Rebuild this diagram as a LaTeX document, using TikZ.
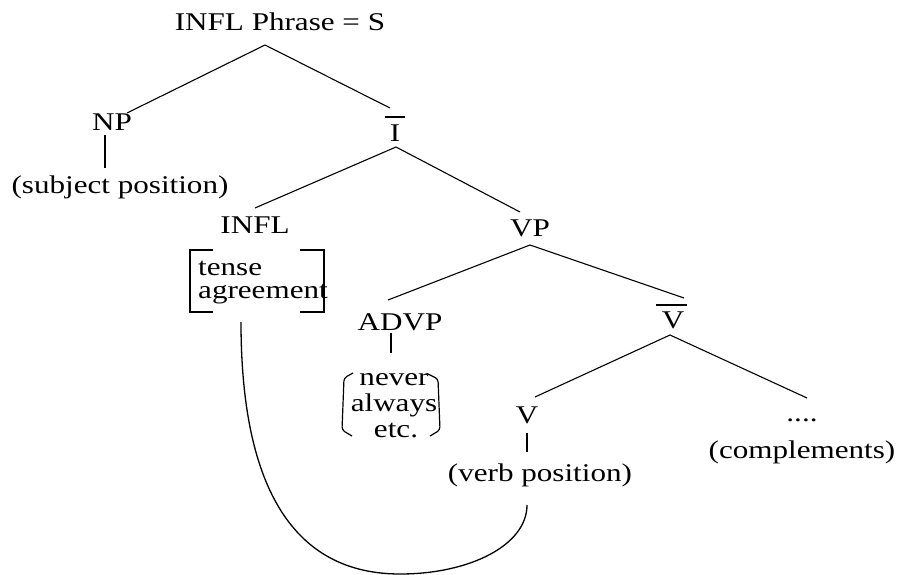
\documentclass[tikz,border=0pt]{standalone}
\usepackage{fontspec}
\setmainfont{Liberation Serif}[FakeStretch=1.22]
\begin{document}
\begin{tikzpicture}[x=1pt,y=-1pt,
  lbl/.style={inner sep=0pt,font=\fontsize{25.5}{28}\selectfont},
  branch/.style={line width=1.1pt},
  stem/.style={line width=2.6pt},
  thinstem/.style={line width=1.5pt},
  brk/.style={line width=1.6pt},
  ovbar/.style={line width=2.4pt}]
\useasboundingbox (0,0) rectangle (899,575);
% nodes
\node[lbl] (S) at (280,22) {INFL Phrase = S};
\node[lbl] (NP) at (112,122) {NP};
\node[lbl] (subj) at (120,187) {(subject position)};
\node[lbl] (Ibar) at (395,133) {I};
\node[lbl] (INFL) at (255,225) {INFL};
\node[lbl] (VP) at (530,228) {VP};
\node[lbl,anchor=base west] (tense) at (198,275) {tense};
\node[lbl,anchor=base west] (agr) at (198,298) {agreement};
\node[lbl] (ADVP) at (400,322) {ADVP};
\node[lbl,anchor=base] (never) at (394,385) {never};
\node[lbl,anchor=base] (always) at (394,411) {always};
\node[lbl,anchor=base] (etc) at (396,437) {etc.};
\node[lbl] (Vbar) at (673,320) {V};
\node[lbl] (V) at (527,415) {V};
\node[lbl] (verbpos) at (540,475) {(verb position)};
\node[lbl] (dots) at (802,420) {....};
\node[lbl] (compl) at (802,452) {(complements)};
% coordinates for branch ends
\coordinate (aS) at (265,45);
\coordinate (eNP) at (127,113);
\coordinate (eI) at (390,108);
\coordinate (aI) at (396,147);
\coordinate (eINFL) at (255,208);
\coordinate (eVP) at (520,212);
\coordinate (aVP) at (530,245);
\coordinate (eADVP) at (388,300);
\coordinate (eVbar) at (684,298);
\coordinate (aVbar) at (670,335);
\coordinate (eV) at (535,397);
\coordinate (eDots) at (807,398);
% bars over I and V
\coordinate (ib1) at (385,117); \coordinate (ib2) at (405,117);
\draw[ovbar] (ib1) -- (ib2);
\coordinate (vb1) at (656,305); \coordinate (vb2) at (687,305);
\draw[ovbar] (vb1) -- (vb2);
% branches
\draw[branch] (eNP) -- (aS) -- (eI);
\draw[branch] (eINFL) -- (aI) -- (eVP);
\draw[branch] (eADVP) -- (aVP) -- (eVbar);
\draw[branch] (eV) -- (aVbar) -- (eDots);
% stems
\coordinate (npT) at (105,135); \coordinate (npB) at (105,168);
\draw[stem] (npT) -- (npB);
\coordinate (adT) at (391,333); \coordinate (adB) at (391,353);
\draw[stem] (adT) -- (adB);
\coordinate (vT) at (527,433); \coordinate (vB) at (527,452);
\draw[thinstem] (vT) -- (vB);
% brackets around tense/agreement
\draw[brk] (213,250) -- (190,250) -- (190,312) -- (213,312);
\draw[brk] (300,250) -- (324,250) -- (324,312) -- (300,312);
% parens around never/always/etc.
\draw[line width=1.2pt,rounded corners=3pt] (353,373) -- (344,378) -- (342,430) -- (352,436);
\draw[line width=1.2pt,rounded corners=3pt] (428,374) -- (438,379) -- (440,430) -- (430,436);
% movement curve
\coordinate (cS) at (241,322);
\coordinate (cM) at (400,574);
\coordinate (cE) at (527,505);
\draw[line width=1.3pt] (cS) .. controls (241,490) and (295,574) .. (cM)
  .. controls (470,574) and (527,545) .. (cE);
\end{tikzpicture}
\end{document}
